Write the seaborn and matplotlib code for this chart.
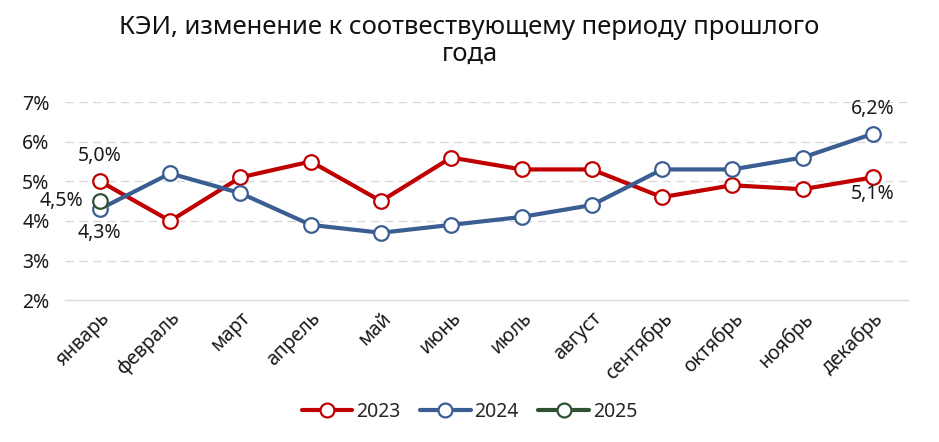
import matplotlib
matplotlib.use("Agg")
import matplotlib.pyplot as plt
import seaborn as sns
import pandas as pd
from matplotlib.lines import Line2D

months = ["январь", "февраль", "март", "апрель", "май", "июнь", "июль",
          "август", "сентябрь", "октябрь", "ноябрь", "декабрь"]
v2023 = [5.0, 4.0, 5.1, 5.5, 4.5, 5.6, 5.3, 5.3, 4.6, 4.9, 4.8, 5.1]
v2024 = [4.3, 5.2, 4.7, 3.9, 3.7, 3.9, 4.1, 4.4, 5.3, 5.3, 5.6, 6.2]
v2025 = [4.5]
years = ["2023", "2024", "2025"]
colors = {"2023": "#C00000", "2024": "#3B5E92", "2025": "#2F5233"}
yticks = [2, 3, 4, 5, 6, 7]

rows = []
for y, vals in zip(years, [v2023, v2024, v2025]):
    for i, v in enumerate(vals):
        rows.append({"month": i, "year": y, "value": v})
df = pd.DataFrame(rows)

sns.set_theme(style="white")
plt.rcParams["font.family"] = ["Noto Sans", "DejaVu Sans"]

fig = plt.figure(figsize=(9.39, 4.42), dpi=100)
ax = fig.add_axes([0.069, 0.321, 0.898, 0.448])

for y in years:
    sns.lineplot(data=df[df["year"] == y], x="month", y="value",
                 color=colors[y], marker="o", markersize=10.5,
                 markerfacecolor="white", markeredgecolor=colors[y],
                 markeredgewidth=1.6, linewidth=3, ax=ax, legend=False,
                 zorder=3)

tcol = "#1a1a1a"
ax.set_xlim(-0.5, 11.5)
ax.set_ylim(2, 7)
ax.set_yticks(yticks)
ax.set_yticklabels([f"{t}%" for t in yticks], fontsize=14, color=tcol)
ax.set_xticks(range(len(months)))
ax.set_xticklabels(months, rotation=45, ha="right", rotation_mode="anchor",
                   fontsize=14, color=tcol)
ax.tick_params(axis="x", pad=6, length=0)
ax.tick_params(axis="y", pad=11, length=0)
ax.set_xlabel("")
ax.set_ylabel("")
for t in yticks[1:]:
    ax.axhline(t, color="#d9d9d9", linestyle=(0, (6, 4)), linewidth=1, zorder=0)
for s in ["top", "right", "left"]:
    ax.spines[s].set_visible(False)
ax.spines["bottom"].set_color("#d9d9d9")
ax.spines["bottom"].set_linewidth(1)

lab_kw = dict(fontsize=14, color=tcol, ha="center")
ax.annotate("5,0%", (0, v2023[0]), xytext=(0, 11), textcoords="offset points", va="bottom", **lab_kw)
ax.annotate("4,3%", (0, v2024[0]), xytext=(0, -10), textcoords="offset points", va="top", **lab_kw)
ax.annotate("4,5%", (0, v2025[0]), xytext=(-28, 0), textcoords="offset points", va="center", **lab_kw)
ax.annotate("6,2%", (11, v2024[11]), xytext=(0, 11), textcoords="offset points", va="bottom", **lab_kw)
ax.annotate("5,1%", (11, v2023[11]), xytext=(0, -5), textcoords="offset points", va="top", **lab_kw)

fig.text(0.5, 0.965, "КЭИ, изменение к соотвествующему периоду прошлого\nгода",
         ha="center", va="top", fontsize=18.5, color="#111111", linespacing=1.05)

handles = [Line2D([], [], color=colors[y], linewidth=3, marker="o", markersize=10,
                  markerfacecolor="white", markeredgecolor=colors[y],
                  markeredgewidth=1.6) for y in years]
fig.legend(handles, years, loc="center", bbox_to_anchor=(0.5, 0.068), ncol=3,
           frameon=False, fontsize=14, handlelength=2.6, columnspacing=1.0,
           handletextpad=0.2)

fig.savefig("out.png", dpi=100)
